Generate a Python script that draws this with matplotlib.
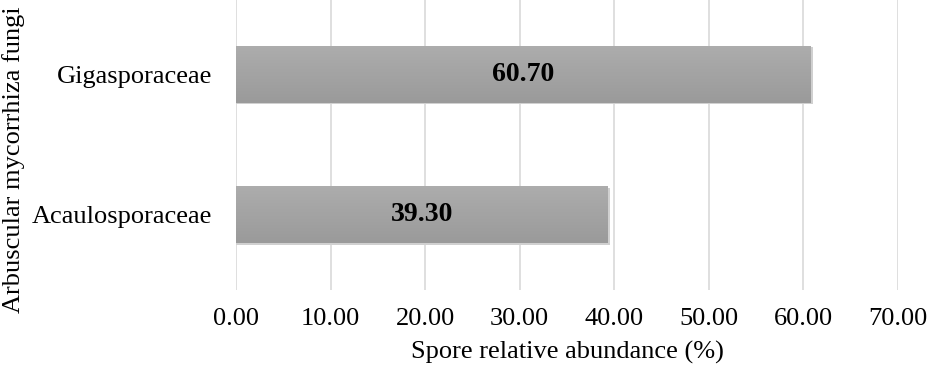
import numpy as np
import matplotlib
matplotlib.use('Agg')
from matplotlib import pyplot as plt

families = ['Acaulosporaceae', 'Gigasporaceae']
abundance = [39.30, 60.70]
xticks = [0, 10, 20, 30, 40, 50, 60, 70]

plt.rcParams['font.family'] = ['Liberation Serif', 'DejaVu Serif']

fig = plt.figure(figsize=(9.32, 3.72), dpi=100)
ax = fig.add_axes([0.2532, 0.2204, 0.7103, 0.7796])

ypos = np.arange(len(families))
h = 0.407
# soft shadow under each bar
for y, v in zip(ypos, abundance):
    ax.barh(y - 0.012, v + 0.25, height=h, left=0.05, color='#d0d0d0', zorder=2, linewidth=0)
bars = ax.barh(ypos, abundance, height=h, color='#a5a5a5', zorder=3, linewidth=0)

# vertical gradient on bars
grad = np.linspace(0, 1, 100).reshape(-1, 1)
for b in bars:
    x0, y0 = b.get_x(), b.get_y()
    im = ax.imshow(grad, extent=(x0, x0 + b.get_width(), y0, y0 + b.get_height()),
                   cmap=matplotlib.colors.LinearSegmentedColormap.from_list('g', ['#9a9a9a', '#adadad']),
                   aspect='auto', origin='lower', zorder=4, interpolation='bilinear')
    im.set_clip_path(b)
    ax.text(x0 + b.get_width() / 2, y0 + b.get_height() / 2, '%.2f' % b.get_width(),
            ha='center', va='center', fontsize=20, fontweight='bold', color='black', zorder=5)

ax.set_xlim(0, 70)
ax.set_ylim(-0.54, 1.53)
ax.set_xticks(xticks)
ax.set_xticklabels(['%.2f' % t for t in xticks])
ax.set_yticks(ypos)
ax.set_yticklabels(families)
ax.tick_params(axis='y', length=0, labelsize=19, pad=17)
ax.tick_params(axis='x', length=0, labelsize=19, pad=13)
ax.grid(axis='x', color='#d9d9d9', linewidth=1.2, zorder=0)
ax.set_axisbelow(True)
for s in ax.spines.values():
    s.set_visible(False)

ax.set_xlabel('Spore relative abundance (%)', fontsize=19, labelpad=8)
ax.set_ylabel('Arbuscular mycorrhiza fungi', fontsize=19)
ax.yaxis.set_label_coords(-0.318, 0.45)

fig.savefig('out.png', dpi=100)
